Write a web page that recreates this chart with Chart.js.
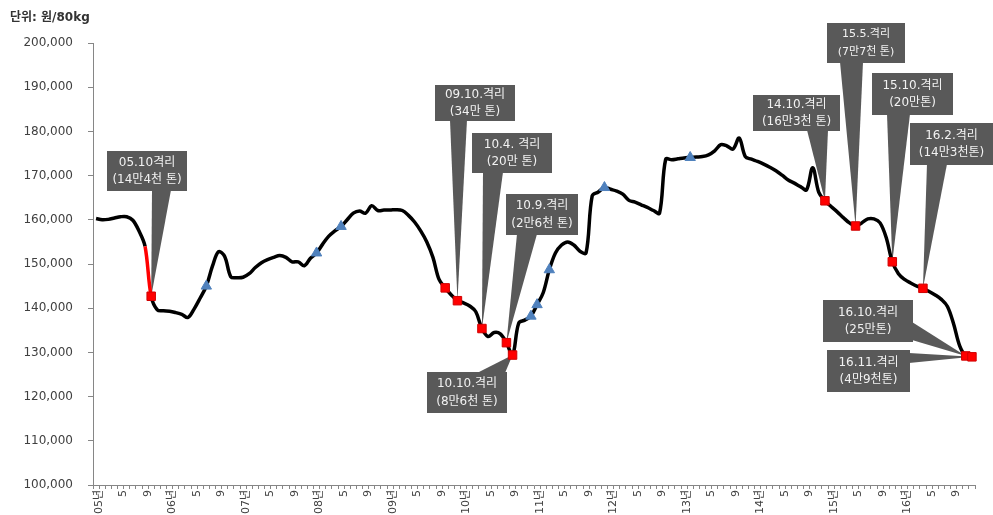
<!DOCTYPE html>
<html lang="ko">
<head>
<meta charset="UTF-8">
<title>산지 쌀값 추이</title>
<script src="https://cdn.jsdelivr.net/npm/chart.js"></script>
<style>
  body { margin: 0; background: #fff; }
  #wrap { width: 993px; height: 515px; }
</style>
</head>
<body>
<div id="wrap"><canvas id="riceChart" width="993" height="515"></canvas></div>
<script>
// years on the x axis, one category per month
const years = ['05', '06', '07', '08', '09', '10', '11', '12', '13', '14', '15', '16'];

// 산지 쌀값 (원/80kg), monthly, 2005.1 ~ 2016.12
const prices = [
  160300, 160000, 160100, 160400, 160700, 160700, 159900, 157500, 154000, 142700, 139600, 139400,
  139300, 139000, 138600, 137900, 139800, 142300, 145000, 149500, 152800, 151700, 147100, 146900,
  147000, 147800, 149200, 150300, 151000, 151500, 151900, 151500, 150500, 150500, 149600, 151300,
  152500, 154500, 156300, 157500, 158500, 160000, 161500, 162000, 161500, 163200, 162100, 162200,
  162200, 162300, 162100, 161000, 159500, 157500, 155000, 151500, 146500, 144600, 143000, 141700,
  141200, 140500, 139200, 135400, 133600, 134500, 134200, 132200, 129400, 136600, 137300, 138200,
  140800, 143500, 148700, 152500, 154300, 155000, 154300, 152900, 152500, 165400, 166300, 167300,
  166900, 166500, 165800, 164400, 164000, 163400, 162800, 162100, 161500, 173700, 173600, 173800,
  174000, 174100, 174200, 174300, 174700, 175600, 177000, 176700, 176000, 178500, 174300, 173700,
  173200, 172600, 171900, 171100, 170100, 169000, 168300, 167500, 166800, 171800, 166200, 164300,
  163000, 161800, 160500, 159300, 158600, 159300, 160200, 160200, 159300, 156000, 150500, 147800,
  146500, 145700, 145000, 144500, 143800, 143000, 142000, 140400, 136500, 131500, 129200, 129000
];

// months (index into prices) with a 격리 marker and with a triangle marker
const redMarks = [9, 57, 59, 63, 67, 68, 119, 124, 130, 135, 142, 143];
const blueMarks = [18, 36, 40, 71, 72, 74, 83, 97];
const redSegments = [8];

const calloutText = [
  ['05.10격리', '(14만4천 톤)'],
  ['09.10.격리', '(34만 톤)'],
  ['10.4. 격리', '(20만 톤)'],
  ['10.9.격리', '(2만6천 톤)'],
  ['10.10.격리', '(8만6천 톤)'],
  ['14.10.격리', '(16만3천 톤)'],
  ['15.5.격리', '(7만7천 톤)'],
  ['15.10.격리', '(20만톤)'],
  ['16.2.격리', '(14만3천톤)'],
  ['16.10.격리', '(25만톤)'],
  ['16.11.격리', '(4만9천톤)']
];
const calloutIdx = [9, 59, 63, 67, 68, 119, 124, 130, 135, 142, 143];

// month labels: 05.1, 05.2 ...
const months = [];
years.forEach(y => {
  for (let m = 1; m <= 12; m++) months.push(y + '.' + m);
});

// callout box placement (pixels)
const calloutBoxes = [
  { x: 107, y: 151, w: 80, h: 40, side: 'bottom', a: 152, b: 171 },
  { x: 435, y: 85, w: 80, h: 36, side: 'bottom', a: 450, b: 467 },
  { x: 472, y: 133, w: 80, h: 40, side: 'bottom', a: 483, b: 503 },
  { x: 506, y: 194, w: 72, h: 41, side: 'bottom', a: 517, b: 537 },
  { x: 427, y: 372, w: 80, h: 41, side: 'top', a: 477, b: 505 },
  { x: 753, y: 95, w: 87, h: 36, side: 'bottom', a: 807, b: 828 },
  { x: 827, y: 23, w: 78, h: 40, side: 'bottom', a: 840, b: 863, size: 11 },
  { x: 872, y: 73, w: 81, h: 42, side: 'bottom', a: 887, b: 910 },
  { x: 910, y: 123, w: 83, h: 42, side: 'bottom', a: 927, b: 947 },
  { x: 823, y: 300, w: 90, h: 42, side: 'right', a: 322, b: 340 },
  { x: 827, y: 350, w: 83, h: 42, side: 'right', a: 353, b: 363 }
];

const labelFont = '"DejaVu Sans", "Noto Sans CJK KR", sans-serif';

const calloutPlugin = {
  id: 'callouts',
  beforeDatasetsDraw(chart) {
    const ctx = chart.ctx;
    const xs = chart.scales.x, ys = chart.scales.y;
    ctx.save();
    calloutBoxes.forEach((bx, n) => {
      const idx = calloutIdx[n];
      const tx = xs.getPixelForValue(idx);
      const ty = ys.getPixelForValue(prices[idx]);
      ctx.fillStyle = '#595959';
      ctx.beginPath();
      if (bx.side === 'bottom') {
        ctx.moveTo(bx.a, bx.y + bx.h - 1);
        ctx.lineTo(bx.b, bx.y + bx.h - 1);
      } else if (bx.side === 'top') {
        ctx.moveTo(bx.a, bx.y + 1);
        ctx.lineTo(bx.b, bx.y + 1);
      } else {
        ctx.moveTo(bx.x + bx.w - 1, bx.a);
        ctx.lineTo(bx.x + bx.w - 1, bx.b);
      }
      ctx.lineTo(tx, ty);
      ctx.closePath();
      ctx.fill();
      ctx.fillRect(bx.x, bx.y, bx.w, bx.h);

      ctx.fillStyle = '#f2f2f2';
      ctx.font = (bx.size || 12) + 'px ' + labelFont;
      ctx.textAlign = 'center';
      ctx.textBaseline = 'middle';
      const cx = bx.x + bx.w / 2, cy = bx.y + bx.h / 2;
      ctx.fillText(calloutText[n][0], cx, cy - 8.5);
      ctx.fillText(calloutText[n][1], cx, cy + 9);
    });
    ctx.restore();
  },
  afterDraw(chart) {
    const ctx = chart.ctx;
    ctx.save();
    ctx.fillStyle = '#333333';
    ctx.font = 'bold 12px ' + labelFont;
    ctx.textAlign = 'left';
    ctx.textBaseline = 'middle';
    ctx.fillText('단위: 원/80kg', 10, 18);
    ctx.restore();
  }
};

const markAt = list => prices.map((v, i) => list.includes(i) ? v : null);

new Chart(document.getElementById('riceChart'), {
  type: 'line',
  data: {
    labels: months,
    datasets: [
      {
        data: markAt(redMarks),
        showLine: false,
        pointStyle: 'rect',
        pointRadius: 6,
        pointBackgroundColor: '#ff0000',
        pointBorderColor: '#d00000',
        pointBorderWidth: 1
      },
      {
        data: markAt(blueMarks),
        showLine: false,
        pointStyle: 'triangle',
        pointRadius: 6,
        pointBackgroundColor: '#4f81bd',
        pointBorderColor: '#4f81bd',
        pointBorderWidth: 1
      },
      {
        data: prices,
        borderColor: '#000000',
        borderWidth: 3.5,
        pointRadius: 0,
        tension: 0.35,
        segment: {
          borderColor: c => redSegments.includes(c.p0DataIndex) ? '#ff0000' : undefined
        }
      }
    ]
  },
  options: {
    responsive: false,
    animation: false,
    layout: { padding: { top: 43, right: 18, left: 0, bottom: 0 } },
    plugins: {
      legend: { display: false },
      tooltip: { enabled: false }
    },
    scales: {
      x: {
        type: 'category',
        offset: true,
        afterFit: s => { s.height = 30; },
        grid: {
          offset: true,
          drawOnChartArea: false,
          drawTicks: true,
          tickLength: 4,
          color: '#868686'
        },
        border: { color: '#868686', width: 1 },
        ticks: {
          autoSkip: false,
          minRotation: 90,
          maxRotation: 90,
          padding: 1,
          labelOffset: 3,
          color: '#404040',
          font: { family: labelFont, size: 11 },
          callback: (v, i) => {
            const m = i % 12;
            if (m === 0) return years[i / 12] + '년';
            if (m === 4) return '5';
            if (m === 8) return '9';
            return '';
          }
        }
      },
      y: {
        min: 100000,
        max: 200000,
        afterFit: s => { s.width = 93; },
        grid: {
          drawOnChartArea: false,
          drawTicks: true,
          tickLength: 5,
          color: '#868686'
        },
        border: { color: '#868686', width: 1 },
        ticks: {
          stepSize: 10000,
          padding: 15,
          color: '#404040',
          font: { family: labelFont, size: 12 },
          callback: v => v.toLocaleString('en-US')
        }
      }
    }
  },
  plugins: [calloutPlugin]
});
</script>
</body>
</html>
